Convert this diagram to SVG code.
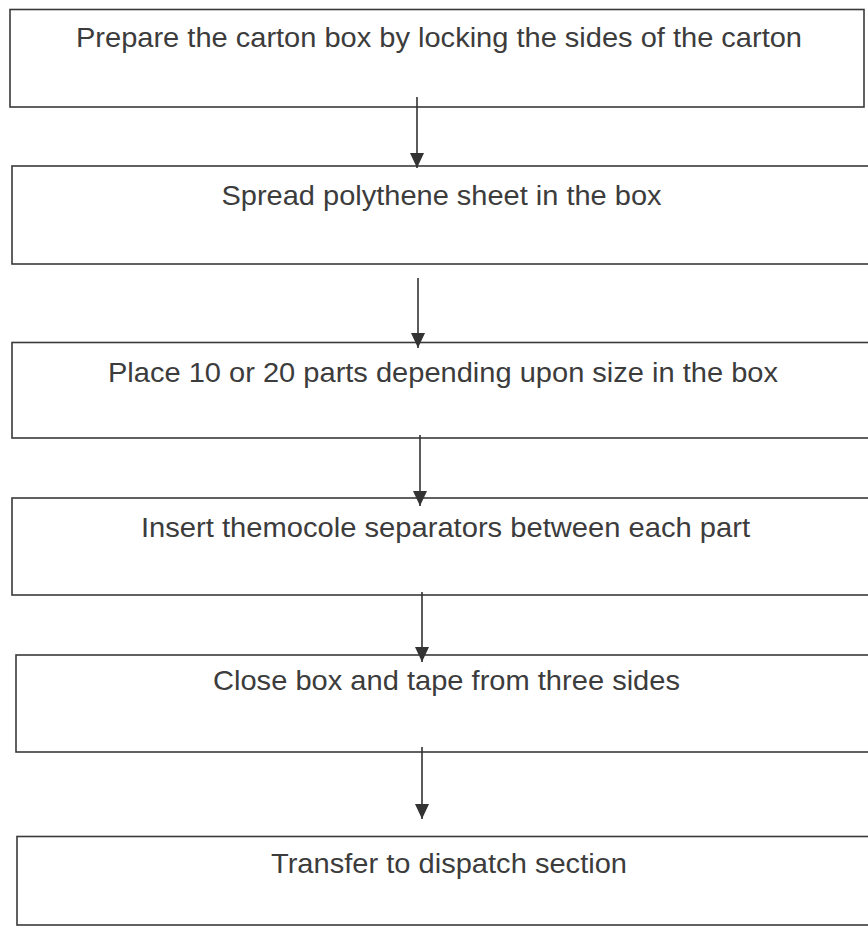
<svg xmlns="http://www.w3.org/2000/svg" width="868" height="928" viewBox="0 0 868 928">
  <style>
    .box { fill: #ffffff; stroke: #3a3a3a; stroke-width: 1.6; }
    .lbl { font-family: "Liberation Sans", Arial, sans-serif; font-size: 27.5px; fill: #3c3c3c; }
    .flow { stroke: #333333; stroke-width: 1.6; fill: none; marker-end: url(#head); }
  </style>
  <defs>
    <marker id="head" markerUnits="userSpaceOnUse" markerWidth="15" markerHeight="14" refX="15" refY="7" orient="auto">
      <path d="M0,0 L15,7 L0,14 Z" fill="#333333"/>
    </marker>
  </defs>
  <rect width="868" height="928" fill="#ffffff"/>

  <g id="step-prepare">
    <rect class="box" x="10" y="9.5" width="854" height="97.5"/>
    <text class="lbl" x="76" y="47" textLength="726" lengthAdjust="spacingAndGlyphs">Prepare the carton box by locking the sides of the carton</text>
  </g>
  <g id="step-spread">
    <rect class="box" x="12" y="166" width="858" height="98"/>
    <text class="lbl" x="221.5" y="205" textLength="440" lengthAdjust="spacingAndGlyphs">Spread polythene sheet in the box</text>
  </g>
  <g id="step-place">
    <rect class="box" x="12" y="342.5" width="858" height="95.5"/>
    <text class="lbl" x="108" y="381.5" textLength="670" lengthAdjust="spacingAndGlyphs">Place 10 or 20 parts depending upon size in the box</text>
  </g>
  <g id="step-insert">
    <rect class="box" x="12" y="498" width="858" height="97"/>
    <text class="lbl" x="141" y="537" textLength="609" lengthAdjust="spacingAndGlyphs">Insert themocole separators between each part</text>
  </g>
  <g id="step-close">
    <rect class="box" x="16" y="655" width="854" height="97"/>
    <text class="lbl" x="213" y="690" textLength="467" lengthAdjust="spacingAndGlyphs">Close box and tape from three sides</text>
  </g>
  <g id="step-transfer">
    <rect class="box" x="17" y="836.5" width="853" height="88.5"/>
    <text class="lbl" x="271" y="873" textLength="356" lengthAdjust="spacingAndGlyphs">Transfer to dispatch section</text>
  </g>

  <g id="connectors">
    <line class="flow" x1="417" y1="97" x2="417" y2="168"/>
    <line class="flow" x1="418" y1="278" x2="418" y2="348"/>
    <line class="flow" x1="420" y1="435" x2="420" y2="506"/>
    <line class="flow" x1="422" y1="592" x2="422" y2="662"/>
    <line class="flow" x1="422" y1="747" x2="422" y2="819"/>
  </g>
</svg>
